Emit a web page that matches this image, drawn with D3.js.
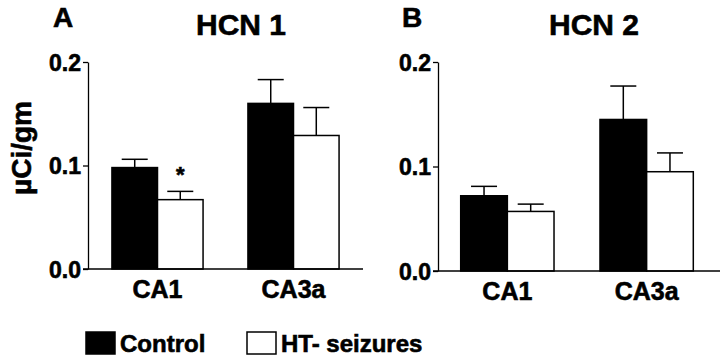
<!DOCTYPE html>
<html><head><meta charset="utf-8">
<script src="https://cdn.jsdelivr.net/npm/d3@7"></script>
<style>body{margin:0;background:#fff}svg{display:block}</style>
</head><body><svg id="c" width="720" height="358"></svg>
<script>
const categories = ["CA1", "CA3a"];
const seriesNames = ["Control", "HT- seizures"];
const hcn1Control = [0.098, 0.160];
const hcn1ControlErr = [0.008, 0.023];
const hcn1HT = [0.067, 0.129];
const hcn1HTErr = [0.008, 0.027];
const hcn2Control = [0.072, 0.145];
const hcn2ControlErr = [0.009, 0.032];
const hcn2HT = [0.057, 0.095];
const hcn2HTErr = [0.007, 0.018];
const yTicks = [0.0, 0.1, 0.2];
const fills = ["#000", "#fff"];

const svg = d3.select("#c");
function styleText(sel, size) {
  return sel.attr("font-family", "Liberation Sans, Arial, sans-serif").attr("font-weight", "bold")
    .attr("font-size", size).attr("fill", "#000").attr("stroke", "#000").attr("stroke-width", 0.6);
}

function panel(o) {
  const g = svg.append("g");
  const x = d3.scaleBand().domain(categories).range([o.x0, o.x1]).paddingInner(0.33).paddingOuter(o.po);
  const xs = d3.scaleBand().domain([0, 1]).range([0, x.bandwidth()]);
  const y = d3.scaleLinear().domain([0, 0.2]).range([o.yb, 62]);
  const series = [o.ctrl, o.ht], errs = [o.ctrlE, o.htE];
  series.forEach((vals, si) => {
    vals.forEach((v, ci) => {
      const cx = x(categories[ci]) + xs(si) + xs.bandwidth() / 2;
      const top = y(v + errs[si][ci]);
      g.append("line").attr("x1", cx).attr("x2", cx).attr("y1", y(v)).attr("y2", top).attr("stroke", "#000").attr("stroke-width", 1.5);
      g.append("line").attr("x1", cx - 13).attr("x2", cx + 13).attr("y1", top).attr("y2", top).attr("stroke", "#000").attr("stroke-width", 1.5);
    });
  });
  series.forEach((vals, si) => {
    g.selectAll(null).data(vals).enter().append("rect")
      .attr("x", (d, i) => x(categories[i]) + xs(si))
      .attr("width", xs.bandwidth())
      .attr("y", d => y(d))
      .attr("height", d => y(0) - y(d))
      .attr("fill", fills[si]).attr("stroke", "#000").attr("stroke-width", 1.5);
  });
  const ya = g.append("g").attr("transform", `translate(${o.x0},0)`)
    .call(d3.axisLeft(y).tickValues(yTicks).tickFormat(d3.format(".1f")).tickSize(5).tickSizeOuter(0));
  ya.select(".domain").attr("stroke-width", 1.3);
  ya.selectAll(".tick line").attr("stroke-width", 1.3);
  styleText(ya.selectAll("text"), 23).attr("x", -7).attr("dy", "0.36em");
  g.append("line").attr("x1", o.x0 - 5).attr("x2", o.xEnd).attr("y1", y(0)).attr("y2", y(0)).attr("stroke", "#000").attr("stroke-width", 1.3);
  styleText(g.selectAll(null).data(categories).enter().append("text"), 25)
    .attr("x", d => x(d) + x.bandwidth() / 2).attr("y", o.yb + 29)
    .attr("text-anchor", "middle").text(d => d);
  styleText(g.append("text"), 28).attr("x", o.letterX).attr("y", 27).text(o.letter);
  styleText(g.append("text"), 30).attr("x", o.titleX).attr("y", 35).attr("text-anchor", "middle").text(o.title);
  return {x, xs, y, g};
}

const A = panel({x0: 88, x1: 363, xEnd: 363, po: 0.176, yb: 269, ctrl: hcn1Control, ctrlE: hcn1ControlErr, ht: hcn1HT, htE: hcn1HTErr, letter: "A", letterX: 53, title: "HCN 1", titleX: 241});
const B = panel({x0: 438, x1: 716, xEnd: 720, po: 0.163, yb: 271, ctrl: hcn2Control, ctrlE: hcn2ControlErr, ht: hcn2HT, htE: hcn2HTErr, letter: "B", letterX: 402, title: "HCN 2", titleX: 594});

styleText(A.g.append("text"), 22)
  .attr("x", A.x("CA1") + A.xs(1) + A.xs.bandwidth() / 2)
  .attr("y", A.y(hcn1HT[0] + hcn1HTErr[0]) - 9)
  .attr("text-anchor", "middle").text("*");

styleText(svg.append("text"), 28).attr("transform", "translate(31,148) rotate(-90)").attr("text-anchor", "middle").text("µCi/gm");

const leg = svg.append("g");
const legX = [86, 247];
seriesNames.forEach((n, i) => {
  leg.append("rect").attr("x", legX[i]).attr("y", 332).attr("width", 29).attr("height", 22).attr("fill", fills[i]).attr("stroke", "#000").attr("stroke-width", 1.5);
  styleText(leg.append("text"), 24).attr("x", legX[i] + 34).attr("y", 352).text(n);
});
</script></body></html>
